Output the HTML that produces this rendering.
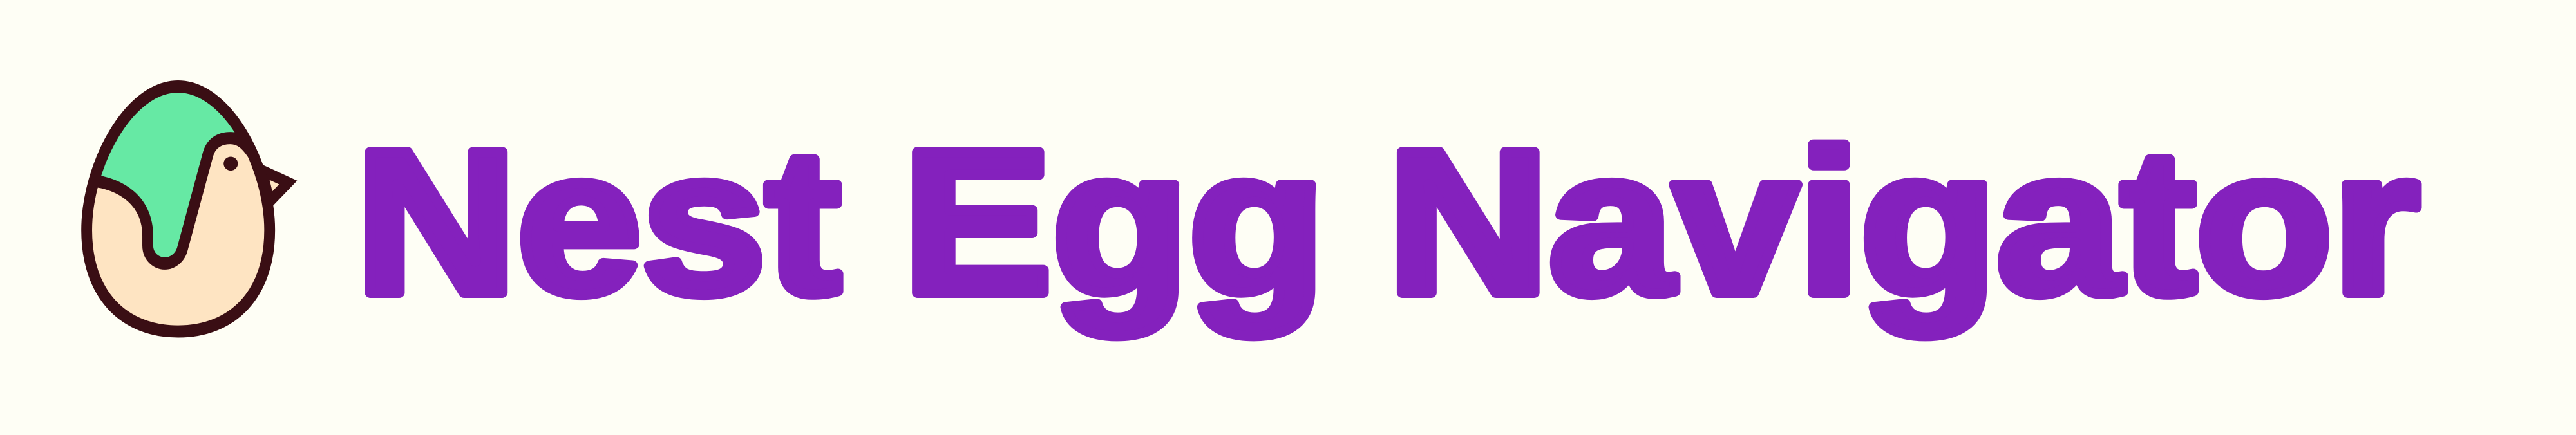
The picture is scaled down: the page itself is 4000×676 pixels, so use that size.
<!DOCTYPE html>
<html><head><meta charset="utf-8"><style>
html,body{margin:0;padding:0;background:#FEFEF5;}
svg{display:block}
</style></head><body>
<svg width="4000" height="676" viewBox="0 0 4000 676" xmlns="http://www.w3.org/2000/svg">
<rect width="4000" height="676" fill="#FEFEF5"/>
<g transform="scale(0.3824,0.431)">
<defs><clipPath id="eggclip"><path d="M723,312 C520,312 352,600 352,830 C352,1060 500,1195 723,1195 C946,1195 1095,1060 1095,830 C1095,600 926,312 723,312 Z"/></clipPath></defs>
<path d="M1065,615 L1170,658 L1095,727 Z" fill="#FEE4C2" stroke="#3A0E14" stroke-width="40" stroke-linejoin="miter"/>
<path d="M723,312 C520,312 352,600 352,830 C352,1060 500,1195 723,1195 C946,1195 1095,1060 1095,830 C1095,600 926,312 723,312 Z" fill="#FEE4C2"/>
<path clip-path="url(#eggclip)" d="M300,200 L1200,200 L1010,540 C990,515 965,498 935,498 C900,498 860,515 845,555 L740,900 C730,930 700,950 670,950 C640,950 600,930 600,885 L600,850 C600,730 500,660 390,650 L300,650 Z" fill="#66E9A4"/>
<path clip-path="url(#eggclip)" d="M360,650 C500,660 600,730 600,850 L600,885 C600,930 640,950 670,950 C700,950 730,930 740,900 L845,555 C860,510 900,498 935,498 C975,498 1000,520 1030,560" fill="none" stroke="#3A0E14" stroke-width="44" stroke-linecap="round"/>
<path d="M723,312 C520,312 352,600 352,830 C352,1060 500,1195 723,1195 C946,1195 1095,1060 1095,830 C1095,600 926,312 723,312 Z" fill="none" stroke="#3A0E14" stroke-width="44"/>
<ellipse cx="937" cy="590" rx="29" ry="25" fill="#3A0E14"/>
</g>
<text x="552" y="455" font-family="'Liberation Sans', sans-serif" font-weight="bold" font-size="318" fill="#8421BD" stroke="#8421BD" stroke-width="16" stroke-linejoin="round" textLength="3205" lengthAdjust="spacingAndGlyphs">Nest Egg Navigator</text>
</svg>
</body></html>
